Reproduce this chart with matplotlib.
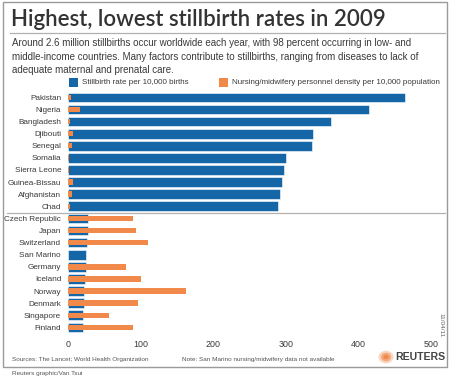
import matplotlib
matplotlib.use('Agg')
import matplotlib.pyplot as plt
from matplotlib.lines import Line2D
from matplotlib.patches import Rectangle, Circle

BLUE = '#1566a6'
ORANGE = '#f0894a'
TEXT = '#3a3a3a'
GRAY = '#9a9a9a'

countries = ['Pakistan', 'Nigeria', 'Bangladesh', 'Djibouti', 'Senegal',
             'Somalia', 'Sierra Leone', 'Guinea-Bissau', 'Afghanistan', 'Chad',
             'Czech Republic', 'Japan', 'Switzerland', 'San Marino', 'Germany',
             'Iceland', 'Norway', 'Denmark', 'Singapore', 'Finland']
stillbirth = [464, 415, 362, 337, 336, 300, 298, 295, 292, 290,
              27, 27, 26, 25, 25, 24, 22, 22, 21, 21]
nursing = [4, 16, 3, 7, 6, 1, 2, 7, 5, 3,
           89, 94, 110, 0, 80, 101, 163, 97, 57, 89]
ticks = [0, 100, 200, 300, 400, 500]

W, H = 450, 379
fig = plt.figure(figsize=(W / 100, H / 100), dpi=100, facecolor='white')
plt.rcParams['font.family'] = ['Liberation Sans', 'DejaVu Sans']


def px(x, y):
    return x / W, 1 - y / H


# outer frame and rules
fig.add_artist(Rectangle(px(3, 367), 444 / W, 365 / H, transform=fig.transFigure,
                         fill=False, edgecolor=GRAY, linewidth=1))
fig.add_artist(Line2D([10 / W, 445 / W], [px(0, 33)[1]] * 2, color='#b0b0b0', linewidth=0.9))
fig.add_artist(Line2D([7 / W, 445 / W], [px(0, 212.5)[1]] * 2, color='#b0b0b0', linewidth=0.9))

fig.text(*px(11, 19), 'Highest, lowest stillbirth rates in 2009', family=['Lato', 'DejaVu Sans'],
         fontsize=16.0, fontweight='semibold', color='#333333', va='center', ha='left')
sub = ('Around 2.6 million stillbirths occur worldwide each year, with 98 percent occurring in low- and\n'
       'middle-income countries. Many factors contribute to stillbirths, ranging from diseases to lack of\n'
       'adequate maternal and prenatal care.')
fig.text(*px(12, 38.5), sub, fontsize=7.0, color=TEXT, va='top', ha='left', linespacing=1.38)

# legend
fig.add_artist(Rectangle(px(69, 87), 9 / W, 9 / H, transform=fig.transFigure,
                         facecolor=BLUE, edgecolor='none'))
fig.text(*px(82, 82.5), 'Stillbirth rate per 10,000 births', fontsize=5.8, color=TEXT, va='center')
fig.add_artist(Rectangle(px(219, 87), 9 / W, 9 / H, transform=fig.transFigure,
                         facecolor=ORANGE, edgecolor='none'))
fig.text(*px(232, 82.5), 'Nursing/midwifery personnel density per 10,000 population',
         fontsize=5.8, color=TEXT, va='center')

ax = fig.add_axes([68 / W, 1 - 333.4 / H, 377.3 / W, 242.1 / H])
ypos = list(range(len(countries)))
ax.barh(ypos, stillbirth, height=0.8, color=BLUE, edgecolor='white', linewidth=0.4)
ax.barh(ypos, nursing, height=0.45, color=ORANGE, edgecolor='none')
ax.set_xlim(0, 520)
ax.set_ylim(len(countries) - 0.5, -0.5)
ax.set_yticks(ypos)
ax.set_yticklabels(countries, fontsize=5.9)
ax.set_xticks(ticks)
ax.set_xticklabels([str(t) for t in ticks], fontsize=6.4)
ax.tick_params(length=0, colors=TEXT)
ax.tick_params(axis='x', pad=5)
ax.tick_params(axis='y', pad=5)
for s in ax.spines.values():
    s.set_visible(False)
ax.patch.set_alpha(0)

# footer
fig.text(*px(12, 359), 'Sources: The Lancet; World Health Organization', fontsize=4.6, color='#555555', va='center')
fig.text(*px(182, 359), 'Note: San Marino nursing/midwifery data not available', fontsize=4.6,
         color='#555555', va='center')
fig.text(*px(12, 374), 'Reuters graphic/Van Tsui', fontsize=4.6, color='#555555', va='center')
fig.text(*px(441, 325), '11/04/11', fontsize=4.6, color='#666666', rotation=270, va='center', ha='center')

# reuters logo
lx, ly = px(386, 357)
for r, a in [(7.5, 0.35), (5, 0.6), (2.5, 1.0)]:
    fig.add_artist(Circle((lx, ly), r / W, transform=fig.transFigure, facecolor=ORANGE,
                          edgecolor='none', alpha=a))
fig.text(*px(395, 357), 'REUTERS', fontsize=7.6, fontweight='bold', color='#444444', va='center')

fig.savefig('out.png', dpi=100, facecolor='white')
